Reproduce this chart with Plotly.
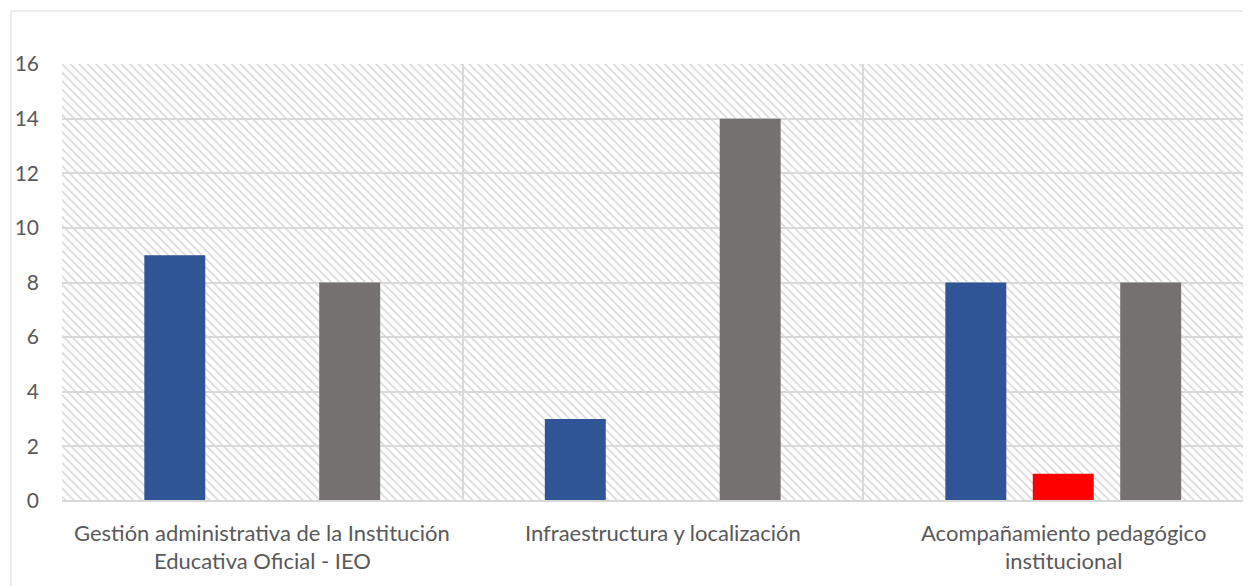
import plotly.graph_objects as go

categories = [
    "Gestión administrativa de la Institución Educativa Oficial - IEO",
    "Infraestructura y localización",
    "Acompañamiento pedagógico institucional",
]
label_lines = [
    ["Gestión administrativa de la Institución", "Educativa Oficial - IEO"],
    ["Infraestructura y localización"],
    ["Acompañamiento pedagógico", "institucional"],
]
series_names = ["Serie 1", "Serie 2", "Serie 3"]
series_values = {
    "Serie 1": [9, 3, 8],
    "Serie 2": [0, 0, 1],
    "Serie 3": [8, 14, 8],
}
series_colors = {"Serie 1": "#2F5597", "Serie 2": "#FF0000", "Serie 3": "#767171"}
y_ticks = [0, 2, 4, 6, 8, 10, 12, 14, 16]

PAGE_OFF = 8  # default body margin of the html page
W, H = 1251 - PAGE_OFF, 586 - PAGE_OFF
ML, MT, MB = 62 - PAGE_OFF, 64 - PAGE_OFF, 85
plot_h = H - MT - MB
plot_bottom_page = 501
cat_w = 400.5
visible_cats = (W - ML) / cat_w  # right part of the chart is cut off

fig = go.Figure()

# hatched plot-area background
fig.add_trace(go.Bar(
    x=[visible_cats / 2], y=[max(y_ticks)], width=[visible_cats],
    xaxis="x", yaxis="y",
    marker=dict(color="rgba(0,0,0,0)", line=dict(width=0),
                pattern=dict(shape="\\", fgcolor="#dadada", bgcolor="rgba(0,0,0,0)",
                             size=6, solidity=0.3, fillmode="replace")),
    hoverinfo="skip", showlegend=False,
))

for name in series_names:
    fig.add_trace(go.Bar(
        x=categories, y=series_values[name], name=name,
        xaxis="x2", yaxis="y2",
        marker=dict(color=series_colors[name], line=dict(width=0)),
        showlegend=False,
    ))

annotations = []
line_centers = [532, 560]
for i, lines in enumerate(label_lines):
    for j, txt in enumerate(lines):
        annotations.append(dict(
            x=i, xref="x2", y=(plot_bottom_page - line_centers[j]) / plot_h, yref="paper",
            text=txt, showarrow=False, xanchor="center", yanchor="middle",
            font=dict(family="Lato", size=22, color="#595959"),
        ))

fig.update_layout(
    width=W, height=H,
    margin=dict(l=ML, r=0, t=MT, b=MB),
    paper_bgcolor="white", plot_bgcolor="white",
    barmode="group", bargap=0.345, bargroupgap=0.303,
    xaxis=dict(range=[0, visible_cats], tickvals=[0, 1, 2], showticklabels=False,
               showgrid=True, gridcolor="#d9d9d9", gridwidth=2, zeroline=False,
               showline=False, ticks=""),
    yaxis=dict(range=[0, 16], tickvals=y_ticks, showgrid=True, gridcolor="#d9d9d9",
               gridwidth=2, zeroline=False, showline=False, ticks="",
               tickfont=dict(family="Lato", size=21, color="#595959"),
               ticklabelstandoff=22),
    xaxis2=dict(overlaying="x", type="category", range=[-0.5, visible_cats - 0.5],
                visible=False),
    yaxis2=dict(overlaying="y", range=[0, 16], visible=False),
    annotations=annotations,
    shapes=[
        dict(type="rect", xref="paper", yref="paper",
             x0=(11 - 62) / (W - ML), x1=1.05,
             y0=-0.3, y1=(plot_bottom_page - 11) / plot_h,
             line=dict(color="#d9d9d9", width=1), layer="below"),
        dict(type="line", xref="paper", yref="paper", x0=0, x1=1, y0=0, y1=0,
             line=dict(color="#d9d9d9", width=2)),
    ],
)

fig.write_html("out.html")
